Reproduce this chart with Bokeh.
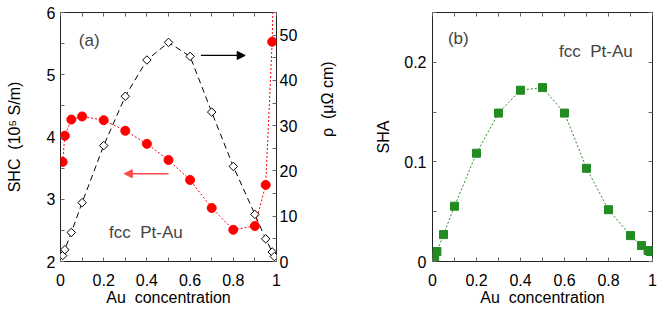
import math
from bokeh.plotting import figure
from bokeh.layouts import row
from bokeh.models import (Range1d, LinearAxis, FixedTicker, Arrow, NormalHead, Label,
                          CustomLabelingPolicy)
from bokeh.embed import file_html
from bokeh.resources import INLINE

# ---- data ----
au = [0.01, 0.02, 0.05, 0.1, 0.2, 0.3, 0.4, 0.5, 0.6, 0.7, 0.8, 0.9, 0.95, 0.98, 0.99]
shc = [3.60, 4.02, 4.28, 4.33, 4.27, 4.10, 3.89, 3.63, 3.31, 2.86, 2.51, 2.57, 3.23, 5.53, 7.2]
rho = [1.3, 2.6, 6.4, 13.0, 25.6, 36.5, 44.5, 48.4, 45.3, 33.0, 21.0, 10.4, 5.0, 2.1, 1.1]
sha = [0.0043, 0.010, 0.027, 0.0555, 0.1087, 0.149, 0.172, 0.1746, 0.149, 0.0936, 0.052, 0.026, 0.016, 0.011, 0.010]

x_ticks = [0, 0.2, 0.4, 0.6, 0.8, 1]
x_minor = [0.1, 0.3, 0.5, 0.7, 0.9]
shc_ticks = [2, 3, 4, 5, 6]
shc_minor = [2.5, 3.5, 4.5, 5.5]
rho_ticks = [0, 10, 20, 30, 40, 50]
rho_minor = [5, 15, 25, 35, 45, 55]
sha_ticks = [0, 0.1, 0.2]
sha_minor = [0.05, 0.15, 0.25]

SP2 = "\u00a0 "  # double space that survives SVG whitespace collapsing
x_label = "Au" + SP2 + "concentration"
shc_label = "SHC" + SP2 + "(10\u2075 S/m)"
rho_label = "\u03c1" + SP2 + "(\u03bc\u03a9 cm)"
alloy_text = "fcc" + SP2 + "Pt-Au"

FONT = "Liberation Sans"
FS = "16px"
FS_TXT = "17px"

NO_LABELS = """
try { for (let i = 0; i < indices.size; i++) { indices.unset(i) } } catch (e) {}
return indices
"""


def style_axis(ax, ticks, minor, labels=True, overrides=None):
    ax.ticker = FixedTicker(ticks=ticks, minor_ticks=minor)
    ax.major_tick_in = 4
    ax.major_tick_out = 0
    ax.minor_tick_in = 4
    ax.minor_tick_out = 0
    ax.major_tick_line_color = "#666666"
    ax.minor_tick_line_color = "#666666"
    ax.axis_line_color = None
    ax.major_label_text_font = FONT
    ax.major_label_text_color = "black"
    ax.axis_label_text_font = FONT
    ax.axis_label_text_font_size = FS
    ax.axis_label_text_font_style = "normal"
    ax.axis_label_text_color = "black"
    if labels:
        ax.major_label_text_font_size = FS
    else:
        ax.major_label_text_font_size = "0px"
        ax.major_label_standoff = 0
        ax.major_label_policy = CustomLabelingPolicy(code=NO_LABELS)
    if overrides:
        ax.major_label_overrides = overrides


xover = {0: "0", 1: "1"}

# ---- panel (a) ----
p1 = figure(width=347, height=312, x_range=Range1d(0, 1), y_range=Range1d(2, 6),
            output_backend="svg", toolbar_location=None,
            min_border_left=60, min_border_right=67, min_border_top=12, min_border_bottom=51)
p1.extra_y_ranges = {"rho": Range1d(0, 55)}
p1.grid.visible = False
p1.outline_line_color = "#222222"
p1.outline_line_width = 1

style_axis(p1.xaxis[0], x_ticks, x_minor, overrides=xover)
p1.xaxis[0].axis_label = x_label
p1.xaxis[0].major_label_standoff = 12
p1.xaxis[0].axis_label_standoff = 0
style_axis(p1.yaxis[0], shc_ticks, shc_minor)
p1.yaxis[0].axis_label = shc_label
p1.yaxis[0].major_label_standoff = 5
p1.yaxis[0].axis_label_standoff = 21

top1 = LinearAxis()
style_axis(top1, x_ticks, x_minor, labels=False)
p1.add_layout(top1, "above")

rax = LinearAxis(y_range_name="rho")
style_axis(rax, rho_ticks, rho_minor)
rax.major_label_standoff = 3
if hasattr(rax, "axis_label_orientation"):
    rax.axis_label = rho_label
    rax.axis_label_orientation = math.pi / 2
    rax.axis_label_standoff = 27
else:
    p1.add_layout(Label(x=337, y=150, x_units="screen", y_units="screen", angle=math.pi / 2,
                        text=rho_label, text_font=FONT, text_font_size=FS,
                        text_align="center", text_baseline="middle"))
p1.add_layout(rax, "right")

p1.line(au, rho, y_range_name="rho", line_color="black", line_dash="6 4", line_width=1)
p1.scatter(au, rho, y_range_name="rho", marker="square", angle=math.pi / 4, size=6,
           fill_color="white", line_color="black", line_width=1)
p1.line(au, shc, line_color="red", line_dash="2 2", line_width=1)
p1.scatter(au, shc, marker="circle", size=9, fill_color="red", line_color="red")

# arrows
blk_x0, blk_x1, blk_y = 0.65, 0.855, 5.31
red_x0, red_x1, red_y = 0.50, 0.295, 3.41
p1.add_layout(Arrow(x_start=blk_x0, x_end=blk_x1, y_start=blk_y, y_end=blk_y,
                    line_color="black", line_width=1.2,
                    end=NormalHead(size=8, fill_color="black", line_color="black")))
p1.add_layout(Arrow(x_start=red_x0, x_end=red_x1, y_start=red_y, y_end=red_y,
                    line_color="#ff4a4a", line_width=1.5,
                    end=NormalHead(size=8, fill_color="#ff4a4a", line_color="#ff4a4a")))

p1.add_layout(Label(x=0.085, y=5.55, text="(a)", text_font=FONT, text_font_size=FS_TXT,
                    text_baseline="middle"))
p1.add_layout(Label(x=0.225, y=2.47, text=alloy_text, text_font=FONT, text_font_size=FS_TXT,
                    text_baseline="middle"))

# ---- panel (b) ----
p2 = figure(width=315, height=312, x_range=Range1d(0, 1), y_range=Range1d(0, 0.25),
            output_backend="svg", toolbar_location=None,
            min_border_left=85, min_border_right=10, min_border_top=12, min_border_bottom=51)
p2.grid.visible = False
p2.outline_line_color = "#222222"
p2.outline_line_width = 1

style_axis(p2.xaxis[0], x_ticks, x_minor, overrides=xover)
p2.xaxis[0].axis_label = x_label
p2.xaxis[0].major_label_standoff = 12
p2.xaxis[0].axis_label_standoff = 0
style_axis(p2.yaxis[0], sha_ticks, sha_minor, overrides={0: "0", 0.1: "0.1", 0.2: "0.2"})
p2.yaxis[0].axis_label = "SHA"
p2.yaxis[0].major_label_standoff = 6
p2.yaxis[0].axis_label_standoff = 9

top2 = LinearAxis()
style_axis(top2, x_ticks, x_minor, labels=False)
p2.add_layout(top2, "above")
right2 = LinearAxis()
style_axis(right2, sha_ticks, sha_minor, labels=False)
p2.add_layout(right2, "right")

p2.line(au, sha, line_color="#2e8b2e", line_dash="2 2", line_width=1)
p2.scatter(au, sha, marker="square", size=8, fill_color="#228b22", line_color="#228b22")

p2.add_layout(Label(x=0.07, y=0.2236, text="(b)", text_font=FONT, text_font_size=FS_TXT,
                    text_baseline="middle"))
p2.add_layout(Label(x=0.575, y=0.2105, text=alloy_text, text_font=FONT, text_font_size=FS_TXT,
                    text_baseline="middle"))

layout = row(p1, p2)
open("out.html", "w").write(file_html(layout, INLINE))
